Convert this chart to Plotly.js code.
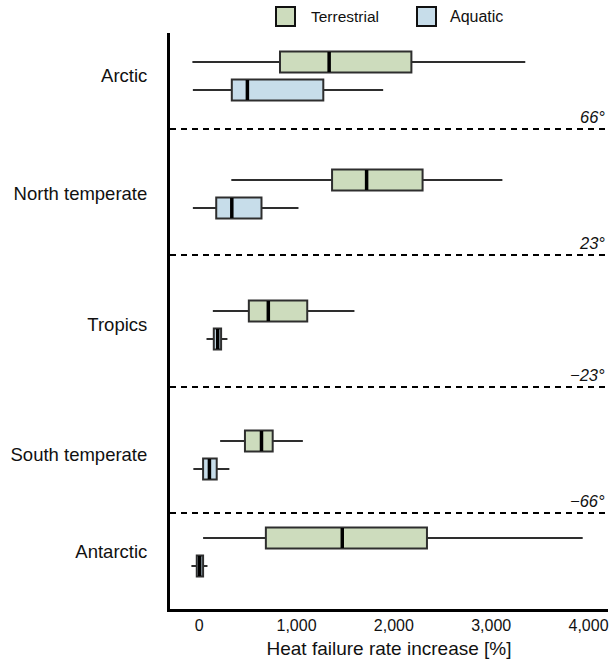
<!DOCTYPE html>
<html>
<head>
<meta charset="utf-8">
<script src="https://cdn.plot.ly/plotly-3.0.1.min.js"></script>
<style>html,body{margin:0;padding:0;background:#fff;}#chart{width:611px;height:665px;}</style>
</head>
<body>
<div id="chart"></div>
<script>
// ---- data ----
const regions = ["Arctic", "North temperate", "Tropics", "South temperate", "Antarctic"];
const latitudeLabels = ["66°", "23°", "\u221223°", "\u221266°"];

const terrLower  = [-70, 330, 140, 215, 40];
const terrQ1     = [830, 1365, 510, 470, 685];
const terrMedian = [1335, 1720, 710, 640, 1470];
const terrQ3     = [2180, 2295, 1110, 755, 2340];
const terrUpper  = [3350, 3115, 1595, 1065, 3940];

const aquaLower  = [-65, -65, 75, -60, -80];
const aquaQ1     = [335, 175, 150, 40, -25];
const aquaMedian = [495, 335, 190, 105, 5];
const aquaQ3     = [1275, 640, 225, 180, 40];
const aquaUpper  = [1890, 1020, 290, 310, 85];

const xTicks = [0, 1000, 2000, 3000, 4000];

// ---- layout positions (y axis in plot-pixel units, top = 0) ----
const groupCenters = [43, 161, 292, 422, 519];
const dividers = [96, 222, 354, 480];
const offset = 14;
const boxW = 21;

const terrPos = groupCenters.map(c => c - offset);
const aquaPos = groupCenters.map(c => c + offset);

const green = "#cddcbd";
const blue = "#c7ddea";
const edge = "#2e2e2e";

function boxTrace(name, pos, lo, q1, med, q3, hi, fill) {
  return {
    type: "box", orientation: "h", name: name,
    y: pos, lowerfence: lo, q1: q1, median: med, q3: q3, upperfence: hi,
    width: boxW, whiskerwidth: 0, boxpoints: false,
    fillcolor: fill, line: {color: edge, width: 2},
    showlegend: false, hoverinfo: "skip"
  };
}
function medianTrace(pos, med) {
  const xs = [], ys = [];
  pos.forEach((p, i) => { xs.push(med[i], med[i], null); ys.push(p - boxW/2 + 0.5, p + boxW/2 - 0.5, null); });
  return {type: "scatter", mode: "lines", x: xs, y: ys, line: {color: "#000", width: 3.5},
          showlegend: false, hoverinfo: "skip"};
}

const traces = [
  boxTrace("Terrestrial", terrPos, terrLower, terrQ1, terrMedian, terrQ3, terrUpper, green),
  boxTrace("Aquatic", aquaPos, aquaLower, aquaQ1, aquaMedian, aquaQ3, aquaUpper, blue),
  medianTrace(terrPos, terrMedian),
  medianTrace(aquaPos, aquaMedian)
];

// plot area geometry
const L = 170, T = 33, B = 56, R = 3, W = 611, H = 665;
const pw = W - L - R, ph = H - T - B;
const px = x => (x - L) / pw;
const py = y => (H - B - y) / ph;

const shapes = dividers.map(d => ({
  type: "line", xref: "paper", yref: "y", x0: 0, x1: 1, y0: d, y1: d,
  line: {color: "#000", width: 2, dash: "6px,5px"}
}));
// legend swatches
shapes.push({type: "rect", xref: "paper", yref: "paper", x0: px(276), x1: px(295), y0: py(26), y1: py(7),
  fillcolor: green, line: {color: "#111", width: 2}});
shapes.push({type: "rect", xref: "paper", yref: "paper", x0: px(417), x1: px(436), y0: py(26), y1: py(7),
  fillcolor: blue, line: {color: "#111", width: 2}});

const annotations = dividers.map((d, i) => ({
  xref: "paper", yref: "y", x: px(607), y: d - 12, xanchor: "right", yanchor: "middle",
  text: "<i>" + latitudeLabels[i] + "</i>", showarrow: false,
  font: {size: 16.5, color: "#111"}
}));
annotations.push({xref: "paper", yref: "paper", x: px(309), y: py(16.5), xanchor: "left", yanchor: "middle",
  text: "Terrestrial", showarrow: false, font: {size: 15.5, color: "#111"}});
annotations.push({xref: "paper", yref: "paper", x: px(448), y: py(16.5), xanchor: "left", yanchor: "middle",
  text: "Aquatic", showarrow: false, font: {size: 16, color: "#111"}});

const layout = {
  width: W, height: H,
  margin: {l: L, r: R, t: T, b: B, pad: 0},
  paper_bgcolor: "#fff", plot_bgcolor: "#fff",
  font: {family: "Liberation Sans, Arial, sans-serif", color: "#111"},
  showlegend: false,
  boxmode: "overlay",
  xaxis: {
    range: [-300, 4200], showgrid: false, zeroline: false,
    showline: true, linecolor: "#000", linewidth: 3,
    tickvals: xTicks, tickformat: ",", ticks: "", tickfont: {size: 16},
    title: {text: "Heat failure rate increase [%]", font: {size: 19}, standoff: 9}
  },
  yaxis: {
    range: [ph, 0], showgrid: false, zeroline: false,
    showline: true, linecolor: "#000", linewidth: 3,
    tickvals: groupCenters, ticktext: regions, ticks: "",
    tickfont: {size: 18.5}, ticklabelstandoff: 16
  },
  shapes: shapes,
  annotations: annotations
};

Plotly.newPlot("chart", traces, layout, {displayModeBar: false, staticPlot: true});
</script>
</body>
</html>
